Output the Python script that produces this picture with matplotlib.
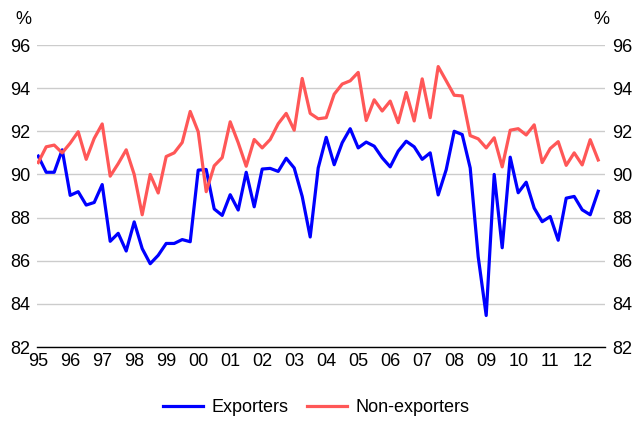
import matplotlib
matplotlib.use('Agg')
import matplotlib.pyplot as plt
import numpy as np

plt.rcParams['font.family'] = ['Liberation Sans', 'DejaVu Sans']

# Quarterly series, 1995 Q1 to 2012 Q3 (per cent)
years = [f'{y % 100:02d}' for y in range(1995, 2013)]

exporters = [
    90.85, 90.1, 90.1, 91.14, 89.03, 89.2, 88.58, 88.7, 89.53, 86.9, 87.27, 86.45,
    87.8, 86.56, 85.86, 86.25, 86.8, 86.8, 86.98, 86.88, 90.2, 90.23, 88.4, 88.1,
    89.06, 88.35, 90.1, 88.5, 90.25, 90.28, 90.14, 90.75, 90.3, 88.98, 87.1, 90.3,
    91.72, 90.45, 91.47, 92.12, 91.23, 91.5, 91.31, 90.77, 90.35, 91.08, 91.54, 91.28,
    90.7, 91.0, 89.05, 90.22, 92.0, 91.85, 90.3, 86.18, 83.46, 90.0, 86.6, 90.8,
    89.15, 89.64, 88.44, 87.81, 88.05, 86.95, 88.9, 88.98, 88.36, 88.13, 89.22,
]

non_exporters = [
    90.55, 91.28, 91.36, 91.0, 91.45, 91.98, 90.7, 91.67, 92.34, 89.92, 90.5, 91.14,
    90.0, 88.13, 90.0, 89.14, 90.83, 91.0, 91.48, 92.92, 91.98, 89.2, 90.4, 90.78,
    92.44, 91.47, 90.38, 91.62, 91.23, 91.62, 92.35, 92.83, 92.05, 94.45, 92.83, 92.58,
    92.63, 93.72, 94.19, 94.34, 94.73, 92.5, 93.46, 92.94, 93.4, 92.4, 93.8, 92.48,
    94.43, 92.63, 95.0, 94.34, 93.67, 93.64, 91.8, 91.65, 91.23, 91.7, 90.35, 92.05,
    92.12, 91.83, 92.3, 90.55, 91.2, 91.52, 90.42, 91.0, 90.44, 91.61, 90.67,
]

x = np.arange(len(exporters))
fs = 13

fig = plt.figure(figsize=(6.33, 4.21), dpi=100)
ax = fig.add_axes([37 / 633, 1 - 347 / 421, 568 / 633, 302 / 421])

ax.plot(x, exporters, color='#0000FF', linewidth=2.3, label='Exporters')
ax.plot(x, non_exporters, color='#FF5757', linewidth=2.3, label='Non-exporters')

ax.set_xlim(-0.15, 70.85)
ax.set_ylim(82, 96)
ax.set_yticks(np.arange(82, 97, 2))
ax.set_xticks(np.arange(0, len(years) * 4, 4))
ax.set_xticklabels(years)

ax.grid(axis='y', color='#CCCCCC', linewidth=1.0)
ax.set_axisbelow(True)
for side in ['top', 'left', 'right']:
    ax.spines[side].set_visible(False)
ax.spines['bottom'].set_color('black')
ax.spines['bottom'].set_linewidth(1.0)

ax.tick_params(axis='both', length=0, labelsize=fs, colors='black')
ax.tick_params(axis='y', labelright=True, pad=5)
ax.tick_params(axis='x', pad=4)

fig.text(23 / 633, 1 - 20 / 421, '%', fontsize=fs, ha='center', va='center')
fig.text(601 / 633, 1 - 20 / 421, '%', fontsize=fs, ha='center', va='center')

fig.legend(loc='center', bbox_to_anchor=(0.5, 1 - 408 / 421), ncol=2, frameon=False,
           fontsize=fs, handlelength=2.2, columnspacing=1.0, handletextpad=0.5)

fig.savefig('out.png', dpi=100)
